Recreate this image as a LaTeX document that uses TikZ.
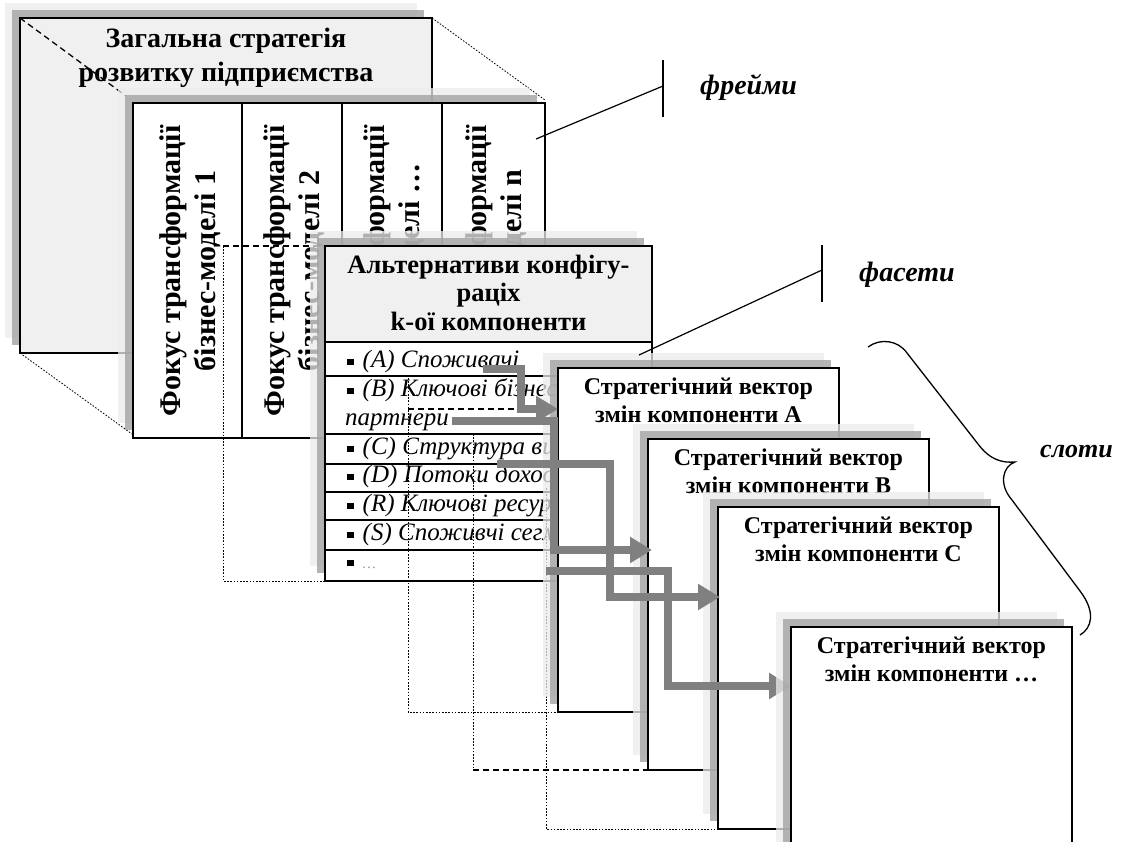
\documentclass[tikz,border=0pt]{standalone}
\usepackage{fontspec}
\setmainfont{Liberation Serif}
\usetikzlibrary{arrows.meta}
\tikzset{
  shlight/.style={fill=gray!15, fill opacity=0.75},
  shdark/.style={fill=gray!72, fill opacity=0.8},
  boxline/.style={draw=black, line width=1.4pt},
  hiddot/.style={draw=black, line width=0.8pt, dash pattern=on 1.6pt off 1.6pt},
  hiddash/.style={draw=black, line width=1.3pt, dash pattern=on 6pt off 4pt},
  bigarrow/.style={draw=gray, line width=8.5pt, line join=miter, -{Triangle[length=22pt,width=25pt]}},
  leader/.style={draw=black, line width=1.2pt},
  ttl/.style={inner sep=0pt, anchor=base, font=\bfseries\fontsize{28}{34}\selectfont},
  col/.style={inner sep=0pt, anchor=base, rotate=90, font=\bfseries\fontsize{30}{34}\selectfont},
  hdr/.style={inner sep=0pt, anchor=base, font=\bfseries\fontsize{26.5}{29}\selectfont},
  rowtxt/.style={inner sep=0pt, anchor=base west, font=\itshape\fontsize{25}{29}\selectfont},
  cardtxt/.style={inner sep=0pt, anchor=base, font=\bfseries\fontsize{24}{28}\selectfont},
  lbl/.style={inner sep=0pt, anchor=base west, font=\bfseries\itshape\fontsize{28}{32}\selectfont},
  bracel/.style={draw=black, line width=1.3pt},
}
\newcommand{\shbox}[5]{%
  \fill[shlight] ({#1-15},{#2-15}) rectangle ({#3-15},{#4-15});
  \fill[shdark] ({#1-8},{#2-8}) rectangle ({#3-8},{#4-8});
  \filldraw[boxline, fill=#5] (#1,#2) rectangle (#3,#4);}
\newcommand{\bul}{\raisebox{2pt}{\rule{6.5pt}{6.5pt}}\hspace{9pt}}
\begin{document}
\begin{tikzpicture}[x=1pt,y=-1pt]
\useasboundingbox (0,0) rectangle (1122,841);
\clip (0,0) rectangle (1122,841);
\fill[white] (0,0) rectangle (1122,841);

% ---- frame 1
\shbox{20}{18}{432}{353}{gray!12}
\node[ttl] (f1a) at (226,47) {Загальна стратегія};
\node[ttl] (f1b) at (226,81) {розвитку підприємства};
\coordinate (f1tl) at (20,18);
\coordinate (f1tr) at (432,18);
\coordinate (f1bl) at (20,353);
\coordinate (f2tl) at (126,96);
\coordinate (f2tr) at (545,100);
\coordinate (f2bl) at (132,434);
\draw[hiddash] (f1tl) -- (f2tl);
\draw[hiddot] (f1tr) -- (f2tr);
\draw[hiddot] (f1bl) -- (f2bl);

% ---- frame 2
\shbox{133}{103}{545}{438}{white}
\draw[boxline] (242,103) -- (242,438) (342,103) -- (342,438) (442,103) -- (442,438);
\node[col] (c1a) at (180,271) {Фокус трансформації};
\node[col] (c1b) at (215,271) {бізнес-моделі 1};
\node[col] (c2a) at (284.5,271) {Фокус трансформації};
\node[col] (c2b) at (319.5,271) {бізнес-моделі 2};
\node[col] (c3a) at (384.5,271) {Фокус трансформації};
\node[col] (c3b) at (419.5,271) {бізнес-моделі …};
\node[col] (c4a) at (486,271) {Фокус трансформації};
\node[col] (c4b) at (521,271) {бізнес-моделі n};

% hidden outline behind frame 3
\draw[hiddash] (223,246) -- (325,246);
\draw[hiddot] (223,246) -- (223,581) -- (325,581);

% ---- frame 3
\shbox{325}{246}{652}{581}{white}
\filldraw[boxline, fill=gray!12] (325,246) rectangle (652,342);
\foreach \yy in {376,434,464,492,520,550} \draw[boxline] (325,\yy) -- (652,\yy);
\node[hdr] (h1) at (488.5,273) {Альтернативи конфігу-};
\node[hdr] (h2) at (488.5,301.5) {раціх};
\node[hdr] (h3) at (488.5,330) {k-ої компоненти};
\node[rowtxt] (rA) at (347,367) {\bul(A) Споживачі};
\node[rowtxt] (rB) at (347,396) {\bul(B) Ключові бізнес-};
\node[rowtxt] (rB2) at (345,425) {партнери};
\node[rowtxt] (rC) at (347,454) {\bul(C) Структура витрат};
\node[rowtxt] (rD) at (347,482) {\bul(D) Потоки доходів};
\node[rowtxt] (rR) at (347,511) {\bul(R) Ключові ресурси};
\node[rowtxt] (rS) at (347,540) {\bul(S) Споживчі сегменти};
\node[rowtxt] (rE) at (347,568) {\bul{\color{gray!80}\fontsize{15}{15}\selectfont …}};

% hidden outlines behind cards
\draw[hiddot] (408,378) -- (408,712) -- (558,712);
\draw[hiddash] (408,409) -- (540,409);
\draw[hiddot] (473,434) -- (473,770);
\draw[hiddash] (473,770) -- (648,770);
\draw[hiddot] (546,488) -- (546,829) -- (718,829);

% ---- cards
\shbox{558}{368}{839}{712}{white}
\node[cardtxt] (kA1) at (698.5,394) {Стратегічний вектор};
\node[cardtxt] (kA2) at (698.5,422) {змін компоненти A};
\shbox{648}{439}{929}{770}{white}
\node[cardtxt] (kB1) at (788.5,465) {Стратегічний вектор};
\node[cardtxt] (kB2) at (788.5,493) {змін компоненти B};
\shbox{718}{507}{999}{829}{white}
\node[cardtxt] (kC1) at (858.5,533) {Стратегічний вектор};
\node[cardtxt] (kC2) at (858.5,561) {змін компоненти C};

% ---- arrows
\coordinate (a1s) at (483,369); \coordinate (a1t) at (558,409);
\coordinate (a2s) at (452,421); \coordinate (a2t) at (652,550);
\coordinate (a3s) at (497,464); \coordinate (a3t) at (720,597);
\coordinate (a4s) at (546,571); \coordinate (a4t) at (791,686);
\draw[bigarrow] (a1s) -- (521,369) -- (521,409) -- (a1t);
\draw[bigarrow] (a2s) -- (554,421) -- (554,550) -- (a2t);
\draw[bigarrow] (a3s) -- (610,464) -- (610,597) -- (a3t);
\draw[bigarrow] (a4s) -- (668,571) -- (668,686) -- (a4t);

\shbox{791}{627}{1072}{880}{white}
\node[cardtxt] (kD1) at (931.5,653) {Стратегічний вектор};
\node[cardtxt] (kD2) at (931.5,681) {змін компоненти …};

% ---- labels
\coordinate (fr1) at (536,139); \coordinate (fr2) at (663,86);
\draw[leader] (fr1) -- (fr2);
\draw[leader] (663,60) -- (663,117);
\node[lbl] (lfr) at (700,94) {фрейми};
\coordinate (fa1) at (639,355); \coordinate (fa2) at (822,270);
\draw[leader] (fa1) -- (fa2);
\draw[leader] (822,245) -- (822,302);
\node[lbl] (lfa) at (859,281) {фасети};
\draw[bracel] (868,347) .. controls (880,338) and (898,340) .. (907,353) -- (978,444)
  .. controls (990,460) and (1002,463) .. (1015,462)
  .. controls (1003,466) and (998,484) .. (1012,500) -- (1080,591)
  .. controls (1096,612) and (1092,628) .. (1080,635);
\node[lbl, font=\bfseries\itshape\fontsize{26}{30}\selectfont] (lsl) at (1040,457) {слоти};
\end{tikzpicture}
\end{document}
